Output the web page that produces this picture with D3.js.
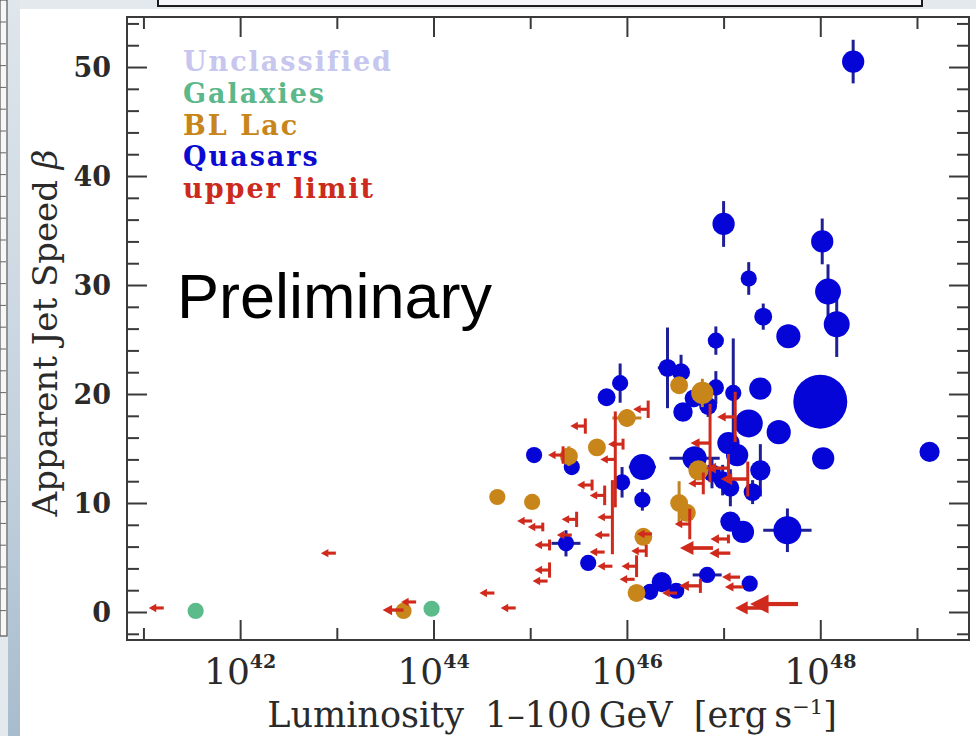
<!DOCTYPE html>
<html>
<head>
<meta charset="utf-8">
<script src="https://cdn.jsdelivr.net/npm/d3@7"></script>
<style>
  body { margin: 0; background: #ffffff; }
  svg { display: block; }
</style>
</head>
<body>
<svg id="chart" width="976" height="736"></svg>
<script>
// ---- data -------------------------------------------------------------
// circle points: [log10 L (erg/s), apparent speed beta, beta error, log L error, marker weight]
const quasars = [
  [48.34, 50.5, 2.0, 0, 17],
  [47.00, 35.6, 2.1, 0, 17],
  [48.02, 34.0, 2.1, 0, 17],
  [47.26, 30.6, 1.5, 0, 9],
  [47.41, 27.1, 1.2, 0, 11],
  [48.08, 29.4, 2.5, 0, 23],
  [48.17, 26.4, 3.0, 0, 23],
  [47.67, 25.3, 0.5, 0, 20],
  [46.92, 24.9, 1.3, 0, 9],
  [48.00, 19.3, 0, 0, 100],
  [48.03, 14.1, 0, 0, 17],
  [49.13, 14.7, 0.5, 0, 14],
  [47.38, 20.5, 0, 0, 17],
  [47.57, 16.5, 0, 0, 20],
  [47.26, 17.3, 0, 0, 27],
  [46.92, 20.6, 1.5, 0, 9],
  [47.10, 20.1, 5.0, 0, 9],
  [46.42, 22.4, 3.7, 0.1, 11],
  [46.56, 22.0, 1.6, 0, 11],
  [45.93, 21.0, 1.8, 0, 9],
  [45.79, 19.7, 0, 0, 11],
  [46.58, 18.35, 0, 0, 13],
  [46.69, 19.6, 0.8, 0, 11],
  [46.84, 18.9, 1.0, 0, 11],
  [47.05, 15.5, 0, 0, 17],
  [47.14, 14.4, 0, 0, 17],
  [47.38, 13.0, 2.4, 0, 14],
  [47.30, 11.0, 1.1, 0, 11],
  [46.99, 12.1, 1.4, 0, 11],
  [47.07, 11.4, 1.7, 0, 11],
  [46.88, 12.75, 1.4, 0, 11],
  [47.07, 8.3, 0, 0, 14],
  [47.20, 7.35, 0, 0, 17],
  [47.66, 7.5, 2.0, 0.25, 27],
  [46.83, 3.4, 0, 0.15, 9],
  [47.27, 2.6, 0, 0, 9],
  [46.36, 2.75, 0, 0, 14],
  [46.24, 1.85, 0, 0, 9],
  [46.51, 1.95, 0, 0, 9],
  [45.95, 11.9, 1.4, 0, 9],
  [46.16, 10.3, 1.0, 0, 9],
  [45.37, 6.3, 1.2, 0.15, 9],
  [45.60, 4.5, 0, 0, 9],
  [45.04, 14.4, 0, 0, 9],
  [45.43, 13.3, 0, 0, 9],
  [46.16, 13.3, 1.0, 0.14, 23],
  [46.70, 14.1, 0, 0.26, 20]
];

const blLacs = [
  [43.69, 0.1, 0, 0, 9],
  [44.66, 10.55, 0, 0, 9],
  [45.02, 10.1, 0, 0, 9],
  [45.40, 14.3, 0.9, 0.08, 11],
  [45.69, 15.1, 0, 0, 11],
  [46.00, 17.8, 0.8, 0.15, 11],
  [46.54, 20.8, 0, 0, 11],
  [46.78, 20.1, 1.3, 0.1, 17],
  [46.74, 13.0, 0, 0, 14],
  [46.54, 10.0, 2.0, 0, 11],
  [46.62, 9.1, 0, 0, 11],
  [46.17, 6.9, 0, 0, 11],
  [46.10, 1.75, 0, 0, 11]
];

const galaxies = [
  [41.54, 0.1, 0, 0, 9],
  [43.98, 0.3, 0, 0, 9]
];

// luminosity upper limits: [log10 L limit, beta, beta error, arrow size]
const upperLimits = [
  [41.21, 0.37, 0, 1],
  [42.99, 5.4, 0, 1],
  [43.69, 0.18, 0, 1.4],
  [43.82, 0.92, 0, 1],
  [44.63, 1.74, 0, 1],
  [44.85, 0.37, 0, 1],
  [45.20, 3.85, 0.7, 1],
  [45.18, 2.84, 0, 1],
  [45.02, 8.35, 0, 1],
  [45.13, 7.8, 0.4, 1],
  [45.48, 8.5, 0.7, 1],
  [45.20, 6.15, 0.5, 1],
  [45.43, 7.06, 0, 1],
  [45.64, 11.65, 0.5, 1],
  [45.77, 10.7, 0.9, 1],
  [45.85, 8.7, 3.4, 1],
  [45.82, 7.06, 0, 1],
  [45.77, 5.5, 0, 1],
  [45.85, 4.2, 0, 1],
  [46.10, 4.2, 1.0, 1],
  [46.08, 3.0, 0, 1],
  [46.20, 5.6, 0.55, 1],
  [46.26, 7.16, 0, 1],
  [46.65, 8.07, 1.4, 1],
  [46.89, 5.87, 0, 2.2],
  [47.07, 5.4, 0, 1.4],
  [47.05, 6.7, 0.4, 1.2],
  [46.79, 11.8, 1.0, 1],
  [46.76, 2.4, 0.65, 1.4],
  [46.52, 1.74, 0, 1],
  [47.17, 3.2, 0, 1.2],
  [47.20, 2.3, 0, 1.2],
  [47.77, 0.73, 0, 3.2],
  [47.43, 0.37, 0, 2.0],
  [45.57, 17.06, 0.7, 1],
  [45.34, 14.4, 0.8, 1],
  [45.96, 15.4, 0.5, 1],
  [45.88, 14.0, 4.4, 1],
  [46.22, 18.6, 0.8, 1],
  [46.86, 15.5, 3.6, 1.3],
  [47.12, 17.9, 2.3, 1.2],
  [47.05, 13.2, 1.3, 1.5],
  [47.25, 12.2, 1.6, 1.8]
];

const xTickExponents = [41, 42, 43, 44, 45, 46, 47, 48, 49];
const xLabelExponents = [42, 44, 46, 48];
const yLabelValues = [0, 10, 20, 30, 40, 50];
const legendLabels = ["Unclassified", "Galaxies", "BL Lac", "Quasars", "upper limit"];
const legendColors = ["#c6c6ee", "#5cb88a", "#c8861a", "#0a0ad2", "#cc2a1c"];

// ---- page / slide backdrop ---------------------------------------------
const svg = d3.select("#chart");
const W = 976, H = 736;

const defs = svg.append("defs");
const grad = defs.append("linearGradient").attr("id", "sideBar")
  .attr("x1", 0).attr("y1", 0).attr("x2", 0).attr("y2", 1);
grad.append("stop").attr("offset", "0%").attr("stop-color", "#dfe6ec");
grad.append("stop").attr("offset", "60%").attr("stop-color", "#c4d2de");
grad.append("stop").attr("offset", "100%").attr("stop-color", "#a7bccd");

svg.append("rect").attr("width", W).attr("height", H).attr("fill", "#e4e9ed");
svg.append("rect").attr("x", 8).attr("y", 0).attr("width", 12).attr("height", H).attr("fill", "url(#sideBar)");
svg.append("rect").attr("x", 20).attr("y", 9).attr("width", W - 20).attr("height", H - 9).attr("fill", "#ffffff");

// neighbouring panel edge on the far left
svg.append("rect").attr("x", 0).attr("y", 0).attr("width", 7).attr("height", 636)
  .attr("fill", "#f7f7f7").attr("stroke", "#555").attr("stroke-width", 1.2);
svg.append("g").selectAll("line").data(d3.range(22, 630, 21.8)).join("line")
  .attr("x1", 0).attr("x2", 6).attr("y1", d => d).attr("y2", d => d)
  .attr("stroke", "#666").attr("stroke-width", 1);

// title box of the slide, cut by the top edge
svg.append("rect").attr("x", 158).attr("y", -4).attr("width", 764).attr("height", 10)
  .attr("fill", "#f3f6fa").attr("stroke", "#1d1d1d").attr("stroke-width", 2);

// ---- scales -------------------------------------------------------------
const plot = { left: 127, right: 969, top: 17, bottom: 640 };
const x = d3.scaleLog().domain([Math.pow(10, 40.83), Math.pow(10, 49.538)]).range([plot.left, plot.right]);
const y = d3.scaleLinear().domain([-2.569, 54.59]).range([plot.bottom, plot.top]);
const r = d3.scaleSqrt().domain([0, 100]).range([0, 27]);
const L = e => Math.pow(10, e);

// ---- axes ---------------------------------------------------------------
const tickColor = "#3a3a3a";
function styleAxis(g) {
  g.select(".domain").remove();
  g.selectAll(".tick line").attr("stroke", tickColor).attr("stroke-width", 2);
  g.selectAll(".tick text").remove();
}
const evenDec = xTickExponents.filter(e => e % 2 === 0).map(L);
const oddDec = xTickExponents.filter(e => e % 2 !== 0).map(L);

svg.append("g").attr("transform", `translate(0,${plot.bottom})`)
  .call(d3.axisBottom(x).tickValues(evenDec).tickSizeInner(-20).tickSizeOuter(0)).call(styleAxis);
svg.append("g").attr("transform", `translate(0,${plot.bottom})`)
  .call(d3.axisBottom(x).tickValues(oddDec).tickSizeInner(-12).tickSizeOuter(0)).call(styleAxis);
svg.append("g").attr("transform", `translate(0,${plot.top})`)
  .call(d3.axisTop(x).tickValues(evenDec).tickSizeInner(-20).tickSizeOuter(0)).call(styleAxis);
svg.append("g").attr("transform", `translate(0,${plot.top})`)
  .call(d3.axisTop(x).tickValues(oddDec).tickSizeInner(-12).tickSizeOuter(0)).call(styleAxis);

const yMajor = d3.range(0, 51, 10);
const yMinor = d3.range(-2, 55, 2).filter(v => v % 10 !== 0);
[[d3.axisLeft, plot.left], [d3.axisRight, plot.right]].forEach(([ax, pos]) => {
  svg.append("g").attr("transform", `translate(${pos},0)`)
    .call(ax(y).tickValues(yMajor).tickSizeInner(-20).tickSizeOuter(0)).call(styleAxis);
  svg.append("g").attr("transform", `translate(${pos},0)`)
    .call(ax(y).tickValues(yMinor).tickSizeInner(-12).tickSizeOuter(0)).call(styleAxis);
});

svg.append("rect")
  .attr("x", plot.left).attr("y", plot.top)
  .attr("width", plot.right - plot.left).attr("height", plot.bottom - plot.top)
  .attr("fill", "none").attr("stroke", tickColor).attr("stroke-width", 2);

// tick labels
const serif = "'DejaVu Serif', 'Liberation Serif', serif";
svg.append("g").selectAll("text").data(yLabelValues).join("text")
  .attr("x", 111).attr("y", d => y(d)).attr("dy", "0.36em")
  .attr("text-anchor", "end")
  .attr("font-family", serif).attr("font-weight", "bold").attr("font-size", 27)
  .attr("fill", "#2a2a2a").text(d => d);

const xl = svg.append("g").selectAll("text").data(xLabelExponents).join("text")
  .attr("x", d => x(L(d))).attr("y", 684)
  .attr("text-anchor", "middle")
  .attr("font-family", serif).attr("font-size", 36).attr("fill", "#2a2a2a");
xl.append("tspan").text("10");
xl.append("tspan").attr("dy", -16).attr("font-size", 19).attr("font-weight", "bold").text(d => d);

// axis titles
const xt = svg.append("text").attr("x", 552).attr("y", 727).attr("text-anchor", "middle")
  .attr("font-family", serif).attr("font-size", 35).attr("word-spacing", 10).attr("fill", "#2a2a2a");
xt.append("tspan").text("Luminosity 1\u2013100\u2009GeV [erg\u2009s");
xt.append("tspan").attr("dy", -13).attr("font-size", 21).text("\u22121");
xt.append("tspan").attr("dy", 13).text("]");

const yt = svg.append("text").attr("transform", "translate(57,333) rotate(-90)")
  .attr("text-anchor", "middle")
  .attr("font-family", serif).attr("font-size", 34).attr("fill", "#2a2a2a");
yt.append("tspan").text("Apparent Jet Speed ");
yt.append("tspan").attr("font-style", "italic").text("\u03b2");

// ---- marks --------------------------------------------------------------
const plotArea = svg.append("g");

function drawCircles(data, fill, barColor) {
  const g = plotArea.append("g");
  data.forEach(([lx, b, be, le, w]) => {
    const cx = x(L(lx)), cy = y(b);
    if (be > 0) {
      g.append("line").attr("x1", cx).attr("x2", cx).attr("y1", y(b - be)).attr("y2", y(b + be))
        .attr("stroke", barColor).attr("stroke-width", 3);
    }
    if (le > 0) {
      g.append("line").attr("x1", x(L(lx - le))).attr("x2", x(L(lx + le))).attr("y1", cy).attr("y2", cy)
        .attr("stroke", barColor).attr("stroke-width", 3);
    }
  });
  g.selectAll("circle").data(data).join("circle")
    .attr("cx", d => x(L(d[0]))).attr("cy", d => y(d[1])).attr("r", d => r(d[4]))
    .attr("fill", fill);
}

drawCircles(quasars, "#0505d8", "#1f1f96");
drawCircles(blLacs, "#c8861a", "#c08224");
drawCircles(galaxies, "#5cbb8b", "#5cbb8b");

// upper limits: leftward arrow from the limit, with the beta error bar at the limit
const red = "#cf2a1c";
const ul = plotArea.append("g");
upperLimits.forEach(([lx, b, be, s]) => {
  const tx = x(L(lx)), ty = y(b);
  const len = 15 * s, headLen = 5 * s + 2.5, headHalf = 2.4 * s + 1.8;
  const hx = tx - len;
  if (be > 0) {
    ul.append("line").attr("x1", tx).attr("x2", tx).attr("y1", y(b - be)).attr("y2", y(b + be))
      .attr("stroke", red).attr("stroke-width", 3);
  }
  ul.append("line").attr("x1", tx).attr("x2", hx + headLen - 1).attr("y1", ty).attr("y2", ty)
    .attr("stroke", red).attr("stroke-width", 2.6 + 0.5 * s);
  ul.append("path")
    .attr("d", `M${hx},${ty} L${hx + headLen},${ty - headHalf} L${hx + headLen},${ty + headHalf} Z`)
    .attr("fill", red);
});

// ---- legend & watermark ---------------------------------------------------
svg.append("g").selectAll("text").data(legendLabels).join("text")
  .attr("x", 183).attr("y", (d, i) => 71 + i * 31.8)
  .attr("font-family", serif).attr("font-weight", "bold").attr("font-size", 27)
  .attr("letter-spacing", 2).attr("fill", (d, i) => legendColors[i]).text(d => d);

svg.append("text").attr("x", 177).attr("y", 318)
  .attr("font-family", "'Liberation Sans', Arial, sans-serif").attr("font-size", 63)
  .attr("fill", "#000").text("Preliminary");
</script>
</body>
</html>
